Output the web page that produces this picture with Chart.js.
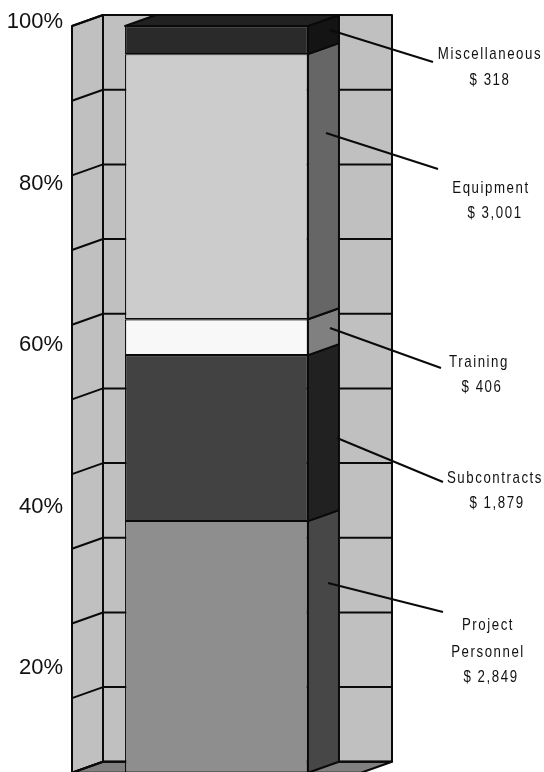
<!DOCTYPE html>
<html>
<head>
<meta charset="utf-8">
<style>
  html, body { margin: 0; padding: 0; background: #fff; overflow: hidden; }
  canvas { display: block; }
</style>
<script src="https://cdn.jsdelivr.net/npm/chart.js@4"></script>
</head>
<body>
<canvas id="costChart" width="544" height="845"></canvas>
<script>
// bottom segment first
const categories = ['Project Personnel', 'Subcontracts', 'Training', 'Equipment', 'Miscellaneous'];
const dollarValues = [2849, 1879, 406, 3001, 318];
const dollarLabels = ['$ 2,849', '$ 1,879', '$ 406', '$ 3,001', '$ 318'];
const gridValues = [0, 10, 20, 30, 40, 50, 60, 70, 80, 90, 100];

const frontColors = ['#8e8e8e', '#424242', '#f8f8f8', '#cccccc', '#2a2a2a'];
const sideColors = ['#474747', '#212121', '#808080', '#666666', '#141414'];
const topColor = '#212121';
const wallColor = '#c0c0c0';
const floorColor = '#808080';
const lineColor = '#0a0a0a';

const depthX = 31;
const depthY = 11;
const textSquash = 0.78; // no narrow face installed, so the callout text is squeezed

// label text and leader lines sit beside the bar, in page pixels
const calloutLayout = [
  { from: [328, 583], to: [443, 612], text: [['Project', 488, 625], ['Personnel', 488, 652], [dollarLabels[0], 491, 677]] },
  { from: [337, 438], to: [443, 482], text: [['Subcontracts', 495, 478], [dollarLabels[1], 497, 503]] },
  { from: [330, 328], to: [441, 368], text: [['Training', 479, 362], [dollarLabels[2], 482, 387]] },
  { from: [326, 133], to: [438, 169], text: [['Equipment', 491, 188], [dollarLabels[3], 495, 213]] },
  { from: [330, 30], to: [433, 62], text: [['Miscellaneous', 490, 54], [dollarLabels[4], 490, 80]] },
];

const total = dollarValues.reduce((sum, v) => sum + v, 0);

const polygon = (ctx, points, fill) => {
  ctx.beginPath();
  points.forEach(([x, y], i) => (i ? ctx.lineTo(x, y) : ctx.moveTo(x, y)));
  ctx.closePath();
  if (fill) {
    ctx.fillStyle = fill;
    ctx.fill();
  }
  ctx.stroke();
};

// Chart.js has no 3D bars, so walls and side faces are added around the scales
const walls = {
  id: 'walls',
  beforeDatasetsDraw(chart) {
    const { ctx, chartArea, scales } = chart;
    const left = chartArea.left;
    const right = chartArea.right;
    const top = scales.y.getPixelForValue(100);
    const bottom = scales.y.getPixelForValue(0);

    ctx.save();
    ctx.strokeStyle = lineColor;
    ctx.lineWidth = 2;
    ctx.lineJoin = 'round';
    polygon(ctx, [
      [left + depthX, top - depthY], [right + depthX, top - depthY],
      [right + depthX, bottom - depthY], [left + depthX, bottom - depthY],
    ], wallColor);
    polygon(ctx, [
      [left, top], [left + depthX, top - depthY],
      [left + depthX, bottom - depthY], [left, bottom],
    ], wallColor);
    polygon(ctx, [
      [left, bottom], [left + depthX, bottom - depthY],
      [right + depthX, bottom - depthY], [right, bottom],
    ], floorColor);

    gridValues.forEach((v) => {
      const y = scales.y.getPixelForValue(v);
      ctx.beginPath();
      ctx.moveTo(left, y);
      ctx.lineTo(left + depthX, y - depthY);
      ctx.lineTo(right + depthX, y - depthY);
      ctx.stroke();
    });
    ctx.restore();
  },
  afterDatasetsDraw(chart) {
    const { ctx } = chart;
    ctx.save();
    ctx.strokeStyle = lineColor;
    ctx.lineWidth = 2;
    ctx.lineJoin = 'round';

    chart.data.datasets.forEach((ds, i) => {
      const bar = chart.getDatasetMeta(i).data[0];
      const x = bar.x + bar.width / 2;
      polygon(ctx, [
        [x, bar.y], [x + depthX, bar.y - depthY],
        [x + depthX, bar.base - depthY], [x, bar.base],
      ], sideColors[i]);
    });

    const last = chart.getDatasetMeta(categories.length - 1).data[0];
    polygon(ctx, [
      [last.x - last.width / 2, last.y], [last.x - last.width / 2 + depthX, last.y - depthY],
      [last.x + last.width / 2 + depthX, last.y - depthY], [last.x + last.width / 2, last.y],
    ], topColor);
    ctx.restore();
  },
  afterDraw(chart) {
    const { ctx } = chart;
    ctx.save();
    ctx.strokeStyle = lineColor;
    ctx.lineWidth = 2;
    ctx.fillStyle = '#111';
    ctx.font = '17px "Liberation Sans", sans-serif';
    ctx.letterSpacing = '2px';
    ctx.textAlign = 'center';
    ctx.textBaseline = 'middle';
    calloutLayout.forEach((c) => {
      ctx.beginPath();
      ctx.moveTo(c.from[0], c.from[1]);
      ctx.lineTo(c.to[0], c.to[1]);
      ctx.stroke();
      c.text.forEach(([label, x, y]) => {
        ctx.save();
        ctx.translate(x, y);
        ctx.scale(textSquash, 1);
        ctx.fillText(label, 0, 0);
        ctx.restore();
      });
    });
    ctx.restore();
  },
};

new Chart(document.getElementById('costChart'), {
  type: 'bar',
  data: {
    labels: ['Cost'],
    datasets: categories.map((name, i) => ({
      label: name,
      data: [(dollarValues[i] / total) * 100],
      backgroundColor: frontColors[i],
      borderColor: lineColor,
      borderWidth: 1.2,
      borderSkipped: false,
      barPercentage: 0.633,
      categoryPercentage: 1,
    })),
  },
  options: {
    responsive: false,
    animation: false,
    layout: { padding: { top: 22, right: 183, bottom: 15 } },
    plugins: { legend: { display: false }, tooltip: { enabled: false } },
    scales: {
      x: { stacked: true, display: false },
      // bars scale: 100% lands on the top of the walls, the floor at the window edge
      y: { stacked: true, display: false, min: -7.66, max: 100.54 },
      // the percent labels are spaced wider than the walls in the original
      yLabels: {
        position: 'left',
        min: 0,
        max: 100,
        afterFit(scale) {
          scale.width = 72;
        },
        grid: { display: false },
        border: { display: false },
        ticks: {
          stepSize: 20,
          padding: 1,
          color: '#111',
          font: { family: '"Liberation Sans", Arial, sans-serif', size: 22 },
          callback: (v) => v + '%',
        },
      },
    },
  },
  plugins: [walls],
});
</script>
</body>
</html>
